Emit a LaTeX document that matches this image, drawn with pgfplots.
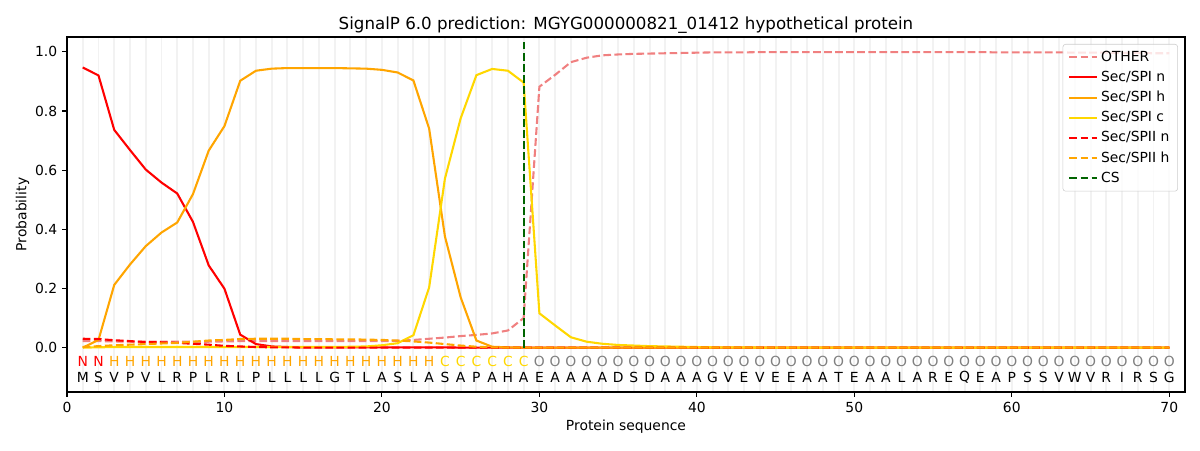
\documentclass[border=0pt]{standalone}
\usepackage{fontspec}
\setmainfont{DejaVu Sans}
\usepackage{pgfplots}
\usepackage{pgfplotstable}
\pgfplotsset{compat=1.18}
\definecolor{lightcoral}{HTML}{F08080}
\definecolor{mplorange}{HTML}{FFA500}
\definecolor{gold}{HTML}{FFD700}
\definecolor{darkgreen}{HTML}{006400}
\tikzset{mpldash/.style={dash pattern=on 5.55pt off 2.4pt}}

\pgfplotstableread{
x other spin spih spic spiin spiih
1 0.022 0.947 0.000 0.000 0.030 0.002
2 0.022 0.920 0.026 0.001 0.029 0.005
3 0.021 0.736 0.212 0.002 0.025 0.008
4 0.020 0.668 0.281 0.002 0.022 0.010
5 0.020 0.602 0.343 0.002 0.019 0.012
6 0.020 0.558 0.389 0.002 0.018 0.014
7 0.020 0.521 0.423 0.002 0.016 0.016
8 0.020 0.425 0.519 0.002 0.013 0.020
9 0.020 0.278 0.666 0.002 0.010 0.024
10 0.021 0.199 0.749 0.002 0.006 0.026
11 0.022 0.044 0.902 0.002 0.004 0.029
12 0.022 0.012 0.936 0.002 0.002 0.030
13 0.022 0.004 0.943 0.002 0.001 0.030
14 0.022 0.002 0.945 0.002 0.001 0.030
15 0.022 0.001 0.945 0.002 0.000 0.029
16 0.022 0.001 0.945 0.002 0.000 0.029
17 0.022 0.001 0.945 0.002 0.000 0.028
18 0.022 0.001 0.944 0.003 0.000 0.028
19 0.022 0.001 0.943 0.004 0.000 0.027
20 0.022 0.001 0.939 0.008 0.000 0.026
21 0.023 0.001 0.930 0.015 0.000 0.024
22 0.026 0.001 0.903 0.042 0.000 0.021
23 0.030 0.001 0.740 0.204 0.000 0.017
24 0.034 0.001 0.376 0.571 0.000 0.012
25 0.039 0.000 0.170 0.775 0.000 0.007
26 0.043 0.000 0.024 0.921 0.000 0.003
27 0.048 0.000 0.003 0.942 0.000 0.001
28 0.058 0.000 0.001 0.936 0.000 0.000
29 0.100 0.000 0.000 0.896 0.000 0.000
30 0.882 0.000 0.000 0.116 0.000 0.000
31 0.922 0.000 0.000 0.075 0.000 0.000
32 0.965 0.000 0.000 0.035 0.000 0.000
33 0.980 0.000 0.000 0.020 0.000 0.000
34 0.988 0.000 0.000 0.013 0.000 0.000
35 0.991 0.000 0.000 0.009 0.000 0.000
36 0.993 0.000 0.000 0.007 0.000 0.000
37 0.994 0.000 0.000 0.005 0.000 0.000
38 0.995 0.000 0.000 0.004 0.000 0.000
39 0.996 0.000 0.000 0.003 0.000 0.000
40 0.997 0.000 0.000 0.002 0.000 0.000
41 0.998 0.000 0.000 0.001 0.000 0.000
42 0.998 0.000 0.000 0.001 0.000 0.000
43 0.998 0.000 0.000 0.001 0.000 0.000
44 0.999 0.000 0.000 0.000 0.000 0.000
45 0.999 0.000 0.000 0.000 0.000 0.000
46 0.999 0.000 0.000 0.000 0.000 0.000
47 0.999 0.000 0.000 0.000 0.000 0.000
48 0.999 0.000 0.000 0.000 0.000 0.000
49 0.999 0.000 0.000 0.000 0.000 0.000
50 0.999 0.000 0.000 0.000 0.000 0.000
51 0.999 0.000 0.000 0.000 0.000 0.000
52 0.999 0.000 0.000 0.000 0.000 0.000
53 0.999 0.000 0.000 0.000 0.000 0.000
54 0.999 0.000 0.000 0.000 0.000 0.000
55 0.999 0.000 0.000 0.000 0.000 0.000
56 0.999 0.000 0.000 0.000 0.000 0.000
57 0.999 0.000 0.000 0.000 0.000 0.000
58 0.999 0.000 0.000 0.000 0.000 0.000
59 0.998 0.000 0.000 0.000 0.000 0.000
60 0.998 0.000 0.000 0.000 0.000 0.000
61 0.998 0.000 0.000 0.000 0.000 0.000
62 0.998 0.000 0.000 0.000 0.000 0.000
63 0.998 0.000 0.000 0.000 0.000 0.000
64 0.997 0.000 0.000 0.000 0.000 0.000
65 0.997 0.000 0.000 0.000 0.000 0.000
66 0.997 0.000 0.000 0.000 0.000 0.000
67 0.996 0.000 0.000 0.000 0.000 0.000
68 0.996 0.000 0.000 0.000 0.000 0.000
69 0.995 0.000 0.000 0.000 0.000 0.000
70 0.995 0.000 0.000 0.000 0.000 0.000
}\probs

\pgfplotstableread{
x y l
1 -0.10 M
2 -0.10 S
3 -0.10 V
4 -0.10 P
5 -0.10 V
6 -0.10 L
7 -0.10 R
8 -0.10 P
9 -0.10 L
10 -0.10 R
11 -0.10 L
12 -0.10 P
13 -0.10 L
14 -0.10 L
15 -0.10 L
16 -0.10 L
17 -0.10 G
18 -0.10 T
19 -0.10 L
20 -0.10 A
21 -0.10 S
22 -0.10 L
23 -0.10 A
24 -0.10 S
25 -0.10 A
26 -0.10 P
27 -0.10 A
28 -0.10 H
29 -0.10 A
30 -0.10 E
31 -0.10 A
32 -0.10 A
33 -0.10 A
34 -0.10 A
35 -0.10 D
36 -0.10 S
37 -0.10 D
38 -0.10 A
39 -0.10 A
40 -0.10 A
41 -0.10 G
42 -0.10 V
43 -0.10 E
44 -0.10 V
45 -0.10 E
46 -0.10 E
47 -0.10 A
48 -0.10 A
49 -0.10 T
50 -0.10 E
51 -0.10 A
52 -0.10 A
53 -0.10 L
54 -0.10 A
55 -0.10 R
56 -0.10 E
57 -0.10 Q
58 -0.10 E
59 -0.10 A
60 -0.10 P
61 -0.10 S
62 -0.10 S
63 -0.10 V
64 -0.10 W
65 -0.10 V
66 -0.10 R
67 -0.10 I
68 -0.10 R
69 -0.10 S
70 -0.10 G
}\seq

\begin{document}
\begin{tikzpicture}
\path[use as bounding box] (0,0) rectangle (864pt,324pt);
\begin{axis}[
  at={(48.24pt,41.76pt)}, anchor=south west,
  scale only axis, width=804.96pt, height=255.6pt,
  xmin=0, xmax=71, ymin=-0.15, ymax=1.05,
  xtick={0,10,...,70}, ytick={0,0.2,0.4,0.6,0.8,1.0},
  yticklabel style={/pgf/number format/.cd, fixed, fixed zerofill, precision=1},
  /pgf/number format/assume math mode=true,
  xtick pos=bottom, ytick pos=left,
  tick align=outside, major tick length=3.5pt,
  tick style={black, line width=0.8pt},
  axis line style={line width=0.8pt},
  minor xtick={1,...,70}, xminorgrids=true,
  minor grid style={black!5, line width=1.4pt},
  minor tick length=0pt,
  tick label style={font=\fontsize{10}{12}\selectfont},
  xlabel={Protein sequence}, ylabel={Probability},
  label style={font=\fontsize{10}{12}\selectfont},
  xlabel style={at={(axis description cs:0.5,-0.0978)}, anchor=center},
  ylabel style={at={(axis description cs:-0.0398,0.5)}, anchor=center},
  title={SignalP 6.0 prediction: MGYG000000821\_01412 hypothetical protein},
  title style={font=\fontsize{12}{14}\selectfont, at={(axis description cs:0.5,1.0394)}, anchor=center, yshift=-7.2pt},
  legend style={at={(axis description cs:0.9937,0.9803)}, anchor=north east,
    font=\fontsize{10}{12}\selectfont, draw=black!20, rounded corners=2pt,
    fill=white, fill opacity=0.8, text opacity=1, row sep=1.5pt,
    inner xsep=4pt, inner ysep=3pt},
  legend cell align=left,
  legend image code/.code={\draw[#1] (0pt,0pt) -- (20pt,0pt);},
]
\addplot[lightcoral, line width=1.5pt, mpldash] table[x=x,y=other] {\probs};
\addlegendentry{OTHER}
\addplot[red, line width=1.5pt] table[x=x,y=spin] {\probs};
\addlegendentry{Sec/SPI n}
\addplot[mplorange, line width=1.5pt] table[x=x,y=spih] {\probs};
\addlegendentry{Sec/SPI h}
\addplot[gold, line width=1.5pt] table[x=x,y=spic] {\probs};
\addlegendentry{Sec/SPI c}
\addplot[red, line width=1.5pt, mpldash] table[x=x,y=spiin] {\probs};
\addlegendentry{Sec/SPII n}
\addplot[mplorange, line width=1.5pt, mpldash] table[x=x,y=spiih] {\probs};
\addlegendentry{Sec/SPII h}
\addplot[darkgreen, line width=1.5pt, mpldash] coordinates {(29,0) (29,1.035)};
\addlegendentry{CS}

\addplot[forget plot, draw=none, mark=none, point meta=explicit symbolic,
  nodes near coords, nodes near coords style={anchor=center, text=black, font=\fontsize{10}{12}\selectfont}]
  table[x=x,y=y,meta=l] {\seq};
\addplot[forget plot, draw=none, mark=none, nodes near coords={N},
  nodes near coords style={anchor=center, text=red, font=\fontsize{10}{12}\selectfont}]
  coordinates {(1,-0.048) (2,-0.048)};
\addplot[forget plot, draw=none, mark=none, nodes near coords={H},
  nodes near coords style={anchor=center, text=mplorange, font=\fontsize{10}{12}\selectfont}]
  coordinates {(3,-0.048) (4,-0.048) (5,-0.048) (6,-0.048) (7,-0.048) (8,-0.048) (9,-0.048) (10,-0.048) (11,-0.048) (12,-0.048) (13,-0.048) (14,-0.048) (15,-0.048) (16,-0.048) (17,-0.048) (18,-0.048) (19,-0.048) (20,-0.048) (21,-0.048) (22,-0.048) (23,-0.048)};
\addplot[forget plot, draw=none, mark=none, nodes near coords={C},
  nodes near coords style={anchor=center, text=gold, font=\fontsize{10}{12}\selectfont}]
  coordinates {(24,-0.048) (25,-0.048) (26,-0.048) (27,-0.048) (28,-0.048) (29,-0.048)};
\addplot[forget plot, draw=none, mark=none, nodes near coords={O},
  nodes near coords style={anchor=center, text=gray, font=\fontsize{10}{12}\selectfont}]
  coordinates {(30,-0.048) (31,-0.048) (32,-0.048) (33,-0.048) (34,-0.048) (35,-0.048) (36,-0.048) (37,-0.048) (38,-0.048) (39,-0.048) (40,-0.048) (41,-0.048) (42,-0.048) (43,-0.048) (44,-0.048) (45,-0.048) (46,-0.048) (47,-0.048) (48,-0.048) (49,-0.048) (50,-0.048) (51,-0.048) (52,-0.048) (53,-0.048) (54,-0.048) (55,-0.048) (56,-0.048) (57,-0.048) (58,-0.048) (59,-0.048) (60,-0.048) (61,-0.048) (62,-0.048) (63,-0.048) (64,-0.048) (65,-0.048) (66,-0.048) (67,-0.048) (68,-0.048) (69,-0.048) (70,-0.048)};
\end{axis}
\end{tikzpicture}
\end{document}
